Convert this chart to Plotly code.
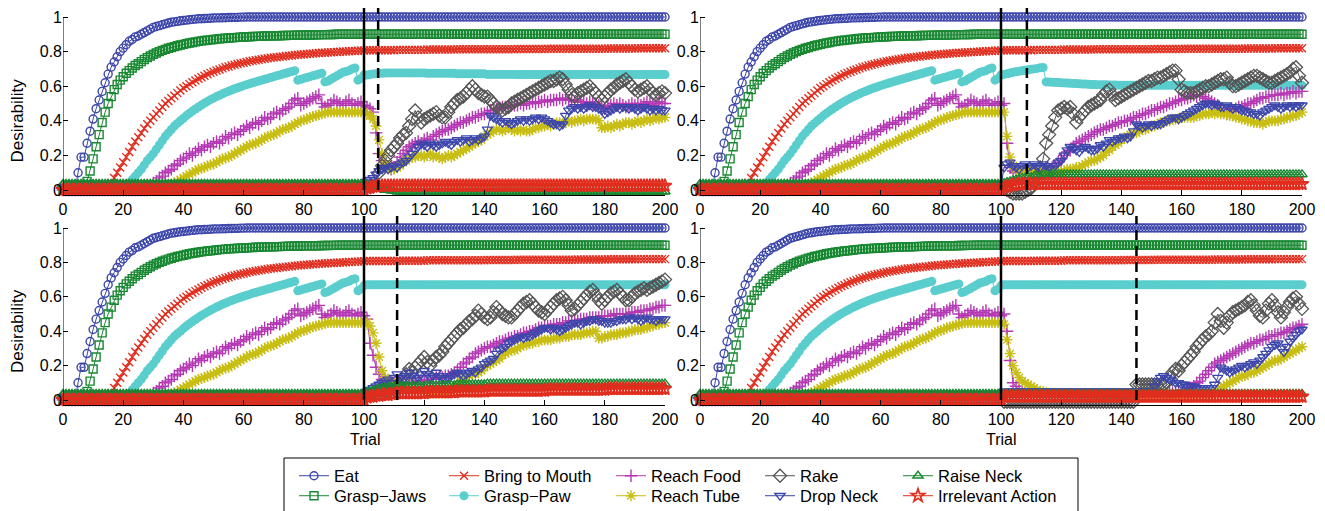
import plotly.graph_objects as go

# ---------------- DATA ----------------
TRIALS = list(range(0, 201))
TICKS_X = [0, 20, 40, 60, 80, 100, 120, 140, 160, 180, 200]
TICKS_Y = [0, 0.2, 0.4, 0.6, 0.8, 1]
TICK_Y_TEXT = ["0", "0.2", "0.4", "0.6", "0.8", "1"]
SERIES = ["Eat", "Grasp\u2212Jaws", "Bring to Mouth", "Grasp\u2212Paw", "Reach Food",
          "Reach Tube", "Rake", "Drop Neck", "Raise Neck", "Irrelevant Action"]
SWITCH_T = 100
DASH_T = [104.7, 108.6, 111.0, 145.0]   # TL, TR, BL, BR

# shared values, trials 0..100
EAT_PRE = [0.0, 0.0, 0.0, 0.0, 0.0,
           0.10, 0.19, 0.19, 0.27, 0.34, 0.41, 0.47, 0.52, 0.57, 0.62,
           0.67, 0.71, 0.74, 0.77, 0.80, 0.82, 0.84, 0.86, 0.87, 0.885,
           0.89, 0.90, 0.91, 0.92, 0.93, 0.94, 0.945, 0.95, 0.955, 0.96,
           0.965, 0.97, 0.972, 0.975, 0.978, 0.98, 0.982, 0.984, 0.986, 0.988,
           0.99, 0.99, 0.991, 0.992, 0.993, 0.994,
           0.995, 0.995, 0.996, 0.996, 0.997, 0.997, 0.998, 0.998, 0.999, 0.999] + [1.0] * 40
GJ_PRE = [0.0] * 8 + [
    0.05, 0.11, 0.18, 0.25, 0.32, 0.39, 0.45, 0.50, 0.54, 0.58,
    0.61, 0.635, 0.655, 0.675, 0.69, 0.705, 0.72, 0.73, 0.742, 0.754,
    0.765, 0.775, 0.784, 0.792, 0.80, 0.807, 0.813, 0.819, 0.824, 0.829,
    0.834, 0.838, 0.842, 0.846, 0.85, 0.853, 0.856, 0.859, 0.862, 0.864,
    0.866, 0.868, 0.87,
    0.872, 0.874, 0.876, 0.877, 0.879, 0.88, 0.881, 0.882, 0.883, 0.884,
    0.885, 0.886, 0.887, 0.888, 0.888, 0.889, 0.89, 0.89, 0.891, 0.891,
    0.892, 0.892, 0.893, 0.893, 0.894, 0.894, 0.895, 0.895, 0.895, 0.896,
    0.896, 0.896, 0.897, 0.897, 0.897, 0.898, 0.898, 0.898, 0.899, 0.899] + [0.9] * 10
BTM_PRE = [0.0] * 15 + [
    0.02, 0.04, 0.07, 0.10, 0.13, 0.16, 0.19, 0.22, 0.25, 0.28,
    0.305, 0.33, 0.355, 0.38, 0.40, 0.42, 0.44, 0.46, 0.48, 0.50,
    0.515, 0.53, 0.545, 0.56, 0.575, 0.59,
    0.60, 0.612, 0.623, 0.633, 0.643, 0.652, 0.661, 0.669, 0.677, 0.684,
    0.691, 0.697, 0.703, 0.709, 0.714, 0.719, 0.724, 0.728, 0.732, 0.736,
    0.74, 0.744, 0.747, 0.75, 0.753, 0.756, 0.759, 0.762, 0.764, 0.766,
    0.768, 0.77, 0.772, 0.774, 0.776, 0.778, 0.78, 0.782, 0.783, 0.785,
    0.786, 0.788, 0.789, 0.79, 0.792, 0.793, 0.794, 0.795, 0.796, 0.797,
    0.798, 0.799, 0.8, 0.801, 0.802, 0.803, 0.804, 0.805, 0.806, 0.807]
GP_PRE = [0.0] * 20 + [
    0.01, 0.02, 0.04, 0.06, 0.08, 0.10, 0.12, 0.145, 0.17, 0.19,
    0.21, 0.235, 0.26, 0.285, 0.31, 0.33, 0.35, 0.37, 0.385, 0.40, 0.415,
    0.43, 0.443, 0.456, 0.468, 0.48, 0.491, 0.502, 0.512, 0.522, 0.531,
    0.54, 0.548, 0.556, 0.564, 0.571, 0.578, 0.585, 0.591, 0.597, 0.603,
    0.609, 0.614, 0.62, 0.625, 0.63, 0.635, 0.64, 0.645, 0.65, 0.655,
    0.66, 0.665, 0.67, 0.675, 0.68, 0.685, 0.69,
    0.635, 0.64, 0.645, 0.65, 0.655, 0.66, 0.665, 0.67, 0.675,
    0.625, 0.63, 0.64, 0.65, 0.66, 0.67, 0.68, 0.685, 0.69, 0.70, 0.705,
    0.635, 0.645, 0.665]
RF_PRE = [0.0] * 29 + [
    0.02, 0.04, 0.05, 0.07, 0.08, 0.10, 0.11, 0.12, 0.14, 0.15, 0.17, 0.18,
    0.19, 0.21, 0.20, 0.22, 0.24, 0.23, 0.25, 0.26, 0.25, 0.27,
    0.28, 0.27, 0.29, 0.31, 0.30, 0.32, 0.33, 0.32, 0.34, 0.35,
    0.37, 0.36, 0.38, 0.39, 0.38, 0.40, 0.42, 0.41, 0.42, 0.44,
    0.45, 0.44, 0.46, 0.47, 0.48, 0.50, 0.52, 0.53, 0.49, 0.50,
    0.51, 0.52, 0.53, 0.54, 0.55, 0.50, 0.48, 0.49, 0.50, 0.52,
    0.51, 0.50, 0.49, 0.51, 0.52, 0.50, 0.49, 0.50, 0.51, 0.49]
RT_PRE = [0.0] * 35 + [
    0.02, 0.03, 0.04, 0.05, 0.06, 0.07, 0.08, 0.09, 0.10, 0.11, 0.12, 0.125, 0.13, 0.14, 0.145, 0.15,
    0.16, 0.17, 0.18, 0.185, 0.19, 0.20, 0.21, 0.22, 0.23, 0.24,
    0.25, 0.26, 0.265, 0.27, 0.28, 0.29, 0.30, 0.31, 0.315, 0.32,
    0.33, 0.34, 0.35, 0.355, 0.36, 0.37, 0.38, 0.39, 0.40, 0.405,
    0.41, 0.42, 0.425, 0.43, 0.435, 0.44, 0.445, 0.45, 0.45, 0.45,
    0.45, 0.45, 0.45, 0.45, 0.45, 0.45, 0.45, 0.45, 0.45, 0.45]
RAKE_PRE = [0.015] * 101
DN_PRE = [0.02] * 101
RN_PRE = [0.035] * 101
IA_PRE = [0.0] * 101

# shared values, trials 101..200
EAT_POST = [1.0] * 100
GJ_POST = [0.9] * 100
BTM_POST = ([0.808] * 10 + [0.81] * 10 + [0.812] * 10 + [0.813] * 10 + [0.814] * 10 +
            [0.815] * 10 + [0.816] * 10 + [0.817] * 10 + [0.818] * 10 + [0.819] * 10)

# ---- top-left panel, trials 101..200
GP_POST_TL = ([0.665, 0.668, 0.67, 0.672, 0.674, 0.675, 0.676, 0.677, 0.677, 0.677] +
              [0.677] * 10 + [0.675] * 10 + [0.672] * 10 + [0.668] * 10 + [0.667] * 50)
RF_POST_TL = [0.48, 0.47, 0.45, 0.33, 0.21, 0.17, 0.14, 0.13, 0.12, 0.13,
              0.16, 0.19, 0.21, 0.23, 0.25, 0.26, 0.27, 0.28, 0.27, 0.29,
              0.30, 0.29, 0.31, 0.32, 0.33, 0.34, 0.35, 0.35, 0.36, 0.37,
              0.38, 0.39, 0.39, 0.40, 0.41, 0.42, 0.42, 0.43, 0.44, 0.44,
              0.45, 0.46, 0.46, 0.47, 0.47, 0.48, 0.48, 0.48, 0.49, 0.49,
              0.49, 0.50, 0.49, 0.50, 0.50, 0.51, 0.50, 0.51, 0.51, 0.52,
              0.51, 0.52, 0.52, 0.52, 0.53, 0.52, 0.53, 0.52, 0.52, 0.51,
              0.52, 0.51, 0.51, 0.50, 0.51, 0.50, 0.50, 0.49, 0.48, 0.47,
              0.48, 0.49, 0.50, 0.49, 0.50, 0.49, 0.48, 0.49, 0.50, 0.49,
              0.50, 0.49, 0.50, 0.51, 0.50, 0.49, 0.50, 0.51, 0.50, 0.50]
RT_POST_TL = [0.44, 0.43, 0.41, 0.37, 0.29, 0.21, 0.15, 0.13, 0.12, 0.12,
              0.13, 0.14, 0.16, 0.17, 0.18, 0.19, 0.19, 0.20, 0.20, 0.19,
              0.20, 0.21, 0.19, 0.20, 0.19, 0.18, 0.19, 0.20, 0.19, 0.20,
              0.21, 0.22, 0.23, 0.24, 0.25, 0.26, 0.27, 0.28, 0.29, 0.31,
              0.32, 0.33, 0.34, 0.35, 0.35, 0.34, 0.35, 0.36, 0.35, 0.34,
              0.35, 0.34, 0.35, 0.34, 0.34, 0.35, 0.36, 0.36, 0.37, 0.37,
              0.38, 0.37, 0.38, 0.39, 0.39, 0.38, 0.39, 0.40, 0.39, 0.40,
              0.40, 0.41, 0.40, 0.41, 0.41, 0.41, 0.41, 0.40, 0.36, 0.36,
              0.37, 0.36, 0.37, 0.38, 0.37, 0.38, 0.39, 0.39, 0.38, 0.39,
              0.40, 0.39, 0.40, 0.41, 0.40, 0.41, 0.42, 0.41, 0.42, 0.42]
RAKE_POST_TL = [0.02, 0.02, 0.02, 0.03, 0.10, 0.14, 0.17, 0.20, 0.23, 0.25,
                0.27, 0.30, 0.32, 0.33, 0.37, 0.41, 0.46, 0.42, 0.39, 0.41,
                0.42, 0.43, 0.44, 0.45, 0.43, 0.42, 0.42, 0.45, 0.48, 0.50,
                0.52, 0.53, 0.54, 0.56, 0.58, 0.60, 0.58, 0.56, 0.55, 0.54,
                0.54, 0.52, 0.50, 0.48, 0.47, 0.46, 0.47, 0.48, 0.50, 0.51,
                0.52, 0.53, 0.54, 0.55, 0.56, 0.57, 0.58, 0.59, 0.60, 0.61,
                0.62, 0.63, 0.63, 0.64, 0.65, 0.64, 0.61, 0.58, 0.55, 0.54,
                0.56, 0.57, 0.58, 0.59, 0.60, 0.58, 0.56, 0.54, 0.52, 0.54,
                0.56, 0.58, 0.59, 0.61, 0.62, 0.63, 0.64, 0.62, 0.60, 0.58,
                0.57, 0.58, 0.59, 0.60, 0.58, 0.56, 0.55, 0.56, 0.57, 0.56]
DN_POST_TL = [0.05, 0.06, 0.07, 0.09, 0.11, 0.12, 0.13, 0.12, 0.13, 0.14,
              0.13, 0.15, 0.16, 0.17, 0.19, 0.21, 0.23, 0.25, 0.27, 0.26,
              0.25, 0.27, 0.26, 0.25, 0.26, 0.27, 0.28, 0.27, 0.26, 0.28,
              0.29, 0.28, 0.29, 0.30, 0.28, 0.29, 0.30, 0.29, 0.30, 0.31,
              0.35, 0.43, 0.42, 0.41, 0.40, 0.39, 0.40, 0.39, 0.38, 0.39,
              0.40, 0.41, 0.40, 0.41, 0.40, 0.41, 0.42, 0.41, 0.42, 0.41,
              0.40, 0.39, 0.38, 0.38, 0.37, 0.38, 0.43, 0.46, 0.47, 0.48,
              0.47, 0.48, 0.47, 0.48, 0.49, 0.48, 0.48, 0.47, 0.46, 0.44,
              0.45, 0.46, 0.47, 0.48, 0.47, 0.48, 0.48, 0.47, 0.48, 0.47,
              0.46, 0.47, 0.48, 0.47, 0.46, 0.47, 0.46, 0.47, 0.46, 0.46]
RN_POST_TL = [0.03, 0.025, 0.02, 0.015, 0.01, 0.005, 0.0, 0.0, -0.005, -0.005] + [-0.01] * 90
IA_POST_TL = [0.01, 0.015, 0.02, 0.02, 0.025] + [0.025] * 95

# ---- top-right panel
GP_POST_TR = ([0.668, 0.672, 0.676, 0.68, 0.683, 0.686, 0.689, 0.692, 0.695, 0.698, 0.70, 0.703, 0.706, 0.708] +
              [0.625, 0.624, 0.623, 0.622, 0.621, 0.62, 0.619, 0.618, 0.617, 0.616, 0.615, 0.614, 0.613, 0.612,
               0.611, 0.61, 0.61, 0.609, 0.609, 0.608, 0.608, 0.607, 0.607, 0.607, 0.606, 0.606, 0.606, 0.606] +
              [0.605] * 58)
RF_POST_TR = [0.50, 0.27, 0.13, 0.11, 0.10, 0.11, 0.10, 0.11, 0.10, 0.11,
              0.10, 0.11, 0.10, 0.11, 0.12, 0.12, 0.13, 0.14, 0.16, 0.18,
              0.20, 0.22, 0.23, 0.25, 0.27, 0.28, 0.29, 0.30, 0.31, 0.32,
              0.33, 0.34, 0.35, 0.35, 0.36, 0.37, 0.37, 0.38, 0.39, 0.39,
              0.40, 0.40, 0.41, 0.42, 0.42, 0.43, 0.44, 0.44, 0.45, 0.46,
              0.46, 0.47, 0.48, 0.48, 0.49, 0.50, 0.50, 0.51, 0.52, 0.52,
              0.53, 0.53, 0.54, 0.55, 0.54, 0.55, 0.54, 0.53, 0.52, 0.51,
              0.50, 0.49, 0.47, 0.45, 0.44, 0.45, 0.46, 0.47, 0.48, 0.48,
              0.49, 0.50, 0.50, 0.51, 0.52, 0.53, 0.53, 0.54, 0.54, 0.55,
              0.55, 0.55, 0.56, 0.55, 0.56, 0.56, 0.57, 0.56, 0.57, 0.57]
RT_POST_TR = [0.45, 0.31, 0.19, 0.14, 0.12, 0.11, 0.11, 0.10, 0.11, 0.10,
              0.11, 0.10, 0.11, 0.10, 0.11, 0.10, 0.11, 0.11, 0.10, 0.11,
              0.11, 0.12, 0.12, 0.12, 0.13, 0.13, 0.14, 0.15, 0.16, 0.17,
              0.17, 0.18, 0.19, 0.20, 0.22, 0.23, 0.25, 0.26, 0.27, 0.29,
              0.30, 0.31, 0.32, 0.33, 0.33, 0.34, 0.35, 0.35, 0.36, 0.37,
              0.37, 0.38, 0.39, 0.39, 0.40, 0.40, 0.41, 0.41, 0.41, 0.42,
              0.42, 0.42, 0.42, 0.42, 0.43, 0.43, 0.44, 0.44, 0.44, 0.45,
              0.44, 0.45, 0.44, 0.44, 0.44, 0.43, 0.43, 0.42, 0.42, 0.41,
              0.41, 0.40, 0.40, 0.39, 0.39, 0.39, 0.38, 0.39, 0.40, 0.40,
              0.40, 0.40, 0.41, 0.41, 0.42, 0.42, 0.43, 0.43, 0.44, 0.45]
RAKE_POST_TR = [0.01, 0.0, -0.01, -0.02, -0.02, -0.02, -0.02, -0.01, 0.0, 0.01,
                0.04, 0.08, 0.13, 0.18, 0.27, 0.32, 0.37, 0.42, 0.46, 0.47,
                0.48, 0.47, 0.48, 0.44, 0.39, 0.42, 0.44, 0.46, 0.48, 0.49,
                0.50, 0.51, 0.52, 0.55, 0.57, 0.58, 0.55, 0.52, 0.53, 0.54,
                0.55, 0.56, 0.57, 0.58, 0.59, 0.60, 0.61, 0.62, 0.63, 0.63,
                0.64, 0.65, 0.65, 0.66, 0.67, 0.68, 0.69, 0.69, 0.64, 0.58,
                0.57, 0.56, 0.56, 0.56, 0.57, 0.58, 0.59, 0.60, 0.60, 0.61,
                0.62, 0.63, 0.64, 0.64, 0.65, 0.62, 0.60, 0.60, 0.61, 0.62,
                0.63, 0.64, 0.65, 0.66, 0.66, 0.65, 0.64, 0.63, 0.62, 0.62,
                0.63, 0.64, 0.65, 0.66, 0.67, 0.68, 0.70, 0.71, 0.66, 0.62]
DN_POST_TR = [0.13, 0.15, 0.16, 0.14, 0.13, 0.12, 0.14, 0.15, 0.13, 0.14,
              0.15, 0.14, 0.13, 0.15, 0.14, 0.13, 0.12, 0.14, 0.16, 0.17,
              0.20, 0.23, 0.25, 0.24, 0.23, 0.22, 0.24, 0.25, 0.24, 0.23,
              0.23, 0.24, 0.26, 0.25, 0.27, 0.29, 0.28, 0.29, 0.30, 0.30,
              0.31, 0.30, 0.31, 0.34, 0.38, 0.37, 0.36, 0.37, 0.38, 0.37,
              0.38, 0.38, 0.38, 0.39, 0.40, 0.41, 0.42, 0.42, 0.41, 0.42,
              0.43, 0.44, 0.45, 0.46, 0.47, 0.48, 0.49, 0.50, 0.50, 0.49,
              0.50, 0.49, 0.48, 0.48, 0.49, 0.48, 0.47, 0.48, 0.47, 0.46,
              0.46, 0.45, 0.45, 0.44, 0.44, 0.43, 0.45, 0.46, 0.47, 0.48,
              0.49, 0.48, 0.47, 0.48, 0.49, 0.48, 0.49, 0.48, 0.49, 0.49]
RN_POST_TR = ([0.04, 0.045, 0.05, 0.055, 0.06, 0.065, 0.07, 0.07, 0.075, 0.075,
               0.08, 0.08, 0.08, 0.085, 0.085, 0.085, 0.09, 0.09, 0.09, 0.09] + [0.09] * 80)
IA_POST_TR = [0.015, 0.02, 0.025, 0.03, 0.03] + [0.035] * 95

# ---- bottom-left panel
GP_POST_BL = [0.67] * 100
RF_POST_BL = [0.47, 0.33, 0.26, 0.19, 0.15, 0.12, 0.11, 0.10, 0.10, 0.10,
              0.10, 0.10, 0.10, 0.10, 0.10, 0.10, 0.11, 0.11, 0.11, 0.11,
              0.12, 0.12, 0.12, 0.13, 0.13, 0.13, 0.14, 0.14, 0.15, 0.16,
              0.17, 0.19, 0.21, 0.22, 0.24, 0.25, 0.27, 0.28, 0.29, 0.30,
              0.31, 0.31, 0.32, 0.33, 0.34, 0.34, 0.35, 0.36, 0.36, 0.37,
              0.37, 0.38, 0.39, 0.39, 0.40, 0.40, 0.41, 0.42, 0.42, 0.43,
              0.43, 0.43, 0.44, 0.44, 0.44, 0.45, 0.45, 0.46, 0.46, 0.46,
              0.46, 0.47, 0.47, 0.47, 0.48, 0.48, 0.48, 0.48, 0.49, 0.49,
              0.49, 0.49, 0.50, 0.50, 0.50, 0.50, 0.50, 0.50, 0.51, 0.51,
              0.51, 0.52, 0.52, 0.52, 0.53, 0.53, 0.54, 0.54, 0.55, 0.55]
RT_POST_BL = [0.45, 0.43, 0.39, 0.33, 0.25, 0.17, 0.13, 0.11, 0.10, 0.09,
              0.08, 0.08, 0.07, 0.07, 0.06, 0.06, 0.06, 0.05, 0.05, 0.05,
              0.05, 0.04, 0.04, 0.04, 0.04, 0.04, 0.04, 0.04, 0.05, 0.07,
              0.09, 0.11, 0.12, 0.13, 0.14, 0.15, 0.15, 0.16, 0.17, 0.19,
              0.20, 0.21, 0.22, 0.23, 0.24, 0.26, 0.27, 0.28, 0.29, 0.29,
              0.30, 0.31, 0.32, 0.32, 0.33, 0.33, 0.34, 0.34, 0.35, 0.35,
              0.35, 0.35, 0.36, 0.36, 0.36, 0.37, 0.37, 0.37, 0.38, 0.38,
              0.38, 0.38, 0.39, 0.39, 0.39, 0.40, 0.40, 0.36, 0.36, 0.37,
              0.37, 0.38, 0.38, 0.38, 0.39, 0.39, 0.39, 0.40, 0.40, 0.41,
              0.41, 0.41, 0.42, 0.42, 0.43, 0.43, 0.44, 0.44, 0.45, 0.45]
RAKE_POST_BL = [0.03, 0.03, 0.04, 0.04, 0.05, 0.05, 0.05, 0.05, 0.06, 0.06,
                0.07, 0.09, 0.12, 0.15, 0.18, 0.16, 0.19, 0.21, 0.23, 0.25,
                0.22, 0.20, 0.23, 0.25, 0.26, 0.28, 0.31, 0.33, 0.35, 0.37,
                0.39, 0.41, 0.42, 0.44, 0.46, 0.47, 0.49, 0.52, 0.50, 0.48,
                0.47, 0.48, 0.51, 0.54, 0.52, 0.50, 0.49, 0.48, 0.48, 0.50,
                0.52, 0.54, 0.56, 0.57, 0.58, 0.56, 0.54, 0.52, 0.51, 0.50,
                0.52, 0.54, 0.56, 0.58, 0.59, 0.60, 0.58, 0.55, 0.52, 0.53,
                0.55, 0.57, 0.59, 0.61, 0.63, 0.64, 0.61, 0.58, 0.56, 0.58,
                0.60, 0.62, 0.63, 0.64, 0.62, 0.60, 0.58, 0.58, 0.60, 0.62,
                0.63, 0.64, 0.65, 0.64, 0.65, 0.66, 0.67, 0.68, 0.69, 0.70]
DN_POST_BL = [0.05, 0.06, 0.07, 0.08, 0.09, 0.10, 0.11, 0.12, 0.10, 0.13,
              0.15, 0.13, 0.12, 0.14, 0.16, 0.14, 0.12, 0.13, 0.15, 0.17,
              0.15, 0.13, 0.14, 0.16, 0.14, 0.13, 0.12, 0.13, 0.14, 0.15,
              0.16, 0.15, 0.14, 0.15, 0.16, 0.17, 0.16, 0.18, 0.19, 0.21,
              0.22, 0.23, 0.24, 0.27, 0.29, 0.30, 0.31, 0.33, 0.34, 0.35,
              0.36, 0.37, 0.36, 0.37, 0.37, 0.38, 0.39, 0.40, 0.41, 0.42,
              0.42, 0.41, 0.42, 0.41, 0.40, 0.41, 0.42, 0.43, 0.44, 0.45,
              0.45, 0.44, 0.45, 0.46, 0.46, 0.47, 0.47, 0.46, 0.46, 0.45,
              0.45, 0.45, 0.46, 0.46, 0.47, 0.47, 0.47, 0.48, 0.47, 0.48,
              0.47, 0.46, 0.47, 0.48, 0.47, 0.47, 0.46, 0.47, 0.47, 0.47]
RN_POST_BL = ([0.045, 0.05, 0.055, 0.06, 0.065, 0.07, 0.07, 0.075, 0.075, 0.08] +
              [0.08] * 10 + [0.085] * 10 + [0.09] * 10 + [0.095] * 60)
IA_POST_BL = ([0.015, 0.02, 0.02, 0.025, 0.025, 0.03, 0.03, 0.03, 0.035, 0.035] +
              [0.04] * 10 + [0.045] * 10 + [0.05] * 10 + [0.055] * 20 + [0.06] * 20 + [0.065] * 20)

# ---- bottom-right panel
GP_POST_BR = [0.67] * 100
RF_POST_BR = ([0.50, 0.40, 0.23, 0.10, 0.08, 0.06, 0.05, 0.04, 0.04, 0.03] + [0.03] * 40 +
              [0.03, 0.03, 0.03, 0.03, 0.03, 0.04, 0.04, 0.05, 0.05, 0.06,
               0.06, 0.07, 0.07, 0.08, 0.10, 0.11, 0.13, 0.15, 0.17, 0.19,
               0.21, 0.22, 0.23, 0.24, 0.25, 0.26, 0.27, 0.28, 0.29, 0.30,
               0.31, 0.32, 0.33, 0.33, 0.34, 0.35, 0.35, 0.36, 0.37, 0.37,
               0.38, 0.38, 0.39, 0.39, 0.40, 0.41, 0.42, 0.42, 0.43, 0.44])
RT_POST_BR = ([0.44, 0.35, 0.27, 0.20, 0.16, 0.13, 0.11, 0.10, 0.09, 0.08,
               0.07, 0.06, 0.05, 0.05, 0.04, 0.04, 0.04, 0.04, 0.03, 0.03] + [0.03] * 50 +
              [0.04, 0.05, 0.07, 0.08, 0.09, 0.10, 0.11, 0.12, 0.13, 0.14,
               0.14, 0.15, 0.16, 0.16, 0.17, 0.18, 0.19, 0.20, 0.21, 0.22,
               0.23, 0.23, 0.24, 0.25, 0.26, 0.27, 0.28, 0.29, 0.30, 0.31])
RAKE_POST_BR = ([-0.01] * 44 + [0.09] * 10 +
                [0.10, 0.13, 0.16, 0.18, 0.17, 0.20,
                 0.22, 0.24, 0.26, 0.28, 0.31, 0.33, 0.35, 0.37, 0.38, 0.40,
                 0.45, 0.50, 0.46, 0.42, 0.45, 0.49, 0.51, 0.52, 0.53, 0.54,
                 0.55, 0.57, 0.58, 0.55, 0.52, 0.49, 0.48, 0.52, 0.56, 0.58,
                 0.55, 0.51, 0.48, 0.51, 0.54, 0.57, 0.59, 0.60, 0.56, 0.53])
DN_POST_BR = ([0.05] * 50 +
              [0.08, 0.11, 0.13, 0.14, 0.13, 0.12, 0.11, 0.10, 0.10, 0.09,
               0.09, 0.08, 0.08, 0.08, 0.07, 0.07, 0.07, 0.07, 0.07, 0.07,
               0.09, 0.13, 0.19, 0.18, 0.17, 0.16, 0.17, 0.18, 0.19, 0.20,
               0.19, 0.20, 0.21, 0.22, 0.21, 0.23, 0.25, 0.27, 0.29, 0.31,
               0.32, 0.33, 0.30, 0.28, 0.31, 0.34, 0.36, 0.38, 0.40, 0.41])
RN_POST_BR = [0.035] * 100
IA_POST_BR = [0.02] * 100

# ---------------- ASSEMBLY ----------------
PRE = [EAT_PRE, GJ_PRE, BTM_PRE, GP_PRE, RF_PRE, RT_PRE, RAKE_PRE, DN_PRE, RN_PRE, IA_PRE]
POST = {
    "TL": [EAT_POST, GJ_POST, BTM_POST, GP_POST_TL, RF_POST_TL, RT_POST_TL, RAKE_POST_TL, DN_POST_TL, RN_POST_TL, IA_POST_TL],
    "TR": [EAT_POST, GJ_POST, BTM_POST, GP_POST_TR, RF_POST_TR, RT_POST_TR, RAKE_POST_TR, DN_POST_TR, RN_POST_TR, IA_POST_TR],
    "BL": [EAT_POST, GJ_POST, BTM_POST, GP_POST_BL, RF_POST_BL, RT_POST_BL, RAKE_POST_BL, DN_POST_BL, RN_POST_BL, IA_POST_BL],
    "BR": [EAT_POST, GJ_POST, BTM_POST, GP_POST_BR, RF_POST_BR, RT_POST_BR, RAKE_POST_BR, DN_POST_BR, RN_POST_BR, IA_POST_BR],
}
for i, a in enumerate(PRE):
    if len(a) != 101:
        raise ValueError(f"PRE {SERIES[i]} has {len(a)}")
for k, lst in POST.items():
    for i, a in enumerate(lst):
        if len(a) != 100:
            raise ValueError(f"POST {k} {SERIES[i]} has {len(a)}")

BLUE, GREEN, RED = "#3C46AA", "#198832", "#E12D1E"
STYLE = [
    dict(color=BLUE, symbol="circle-open", size=8, lw=1.4),
    dict(color=GREEN, symbol="square-open", size=8, lw=1.4),
    dict(color=RED, symbol="x-thin-open", size=8, lw=1.4),
    dict(color="#5ACDCD", symbol="circle", size=9, lw=0),
    dict(color="#B437B4", symbol="cross-thin-open", size=9, lw=1.4),
    dict(color="#C8BE14", symbol="asterisk-open", size=9, lw=1.4),
    dict(color="#555555", symbol="diamond-open", size=10, lw=1.3),
    dict(color=BLUE, symbol="triangle-down-open", size=9, lw=1.3),
    dict(color=GREEN, symbol="triangle-up-open", size=9, lw=1.4),
    dict(color=RED, symbol="star-open", size=10, lw=1.7),
]

# The page body adds an 8px margin, so the figure is drawn 8px smaller and
# every screen position below is shifted by OFF.
OFF = 8
W, H = 1325 - OFF, 511 - OFF
FONT = "Liberation Sans, Arial, Helvetica, sans-serif"
Y_LO, Y_HI = -0.03, 1.07


def fx(p):
    return (p - OFF) / W


def fy(p):
    return min(1.0, max(0.0, 1 - (p - OFF) / H))


# panel screen geometry: x of trial 0, x of trial 200, y of value 0, y of value 1
GEOM = {"TL": (63, 665, 190, 17), "TR": (700, 1302, 190, 17),
        "BL": (63, 665, 400, 228), "BR": (700, 1302, 400, 228)}
AX = {"TL": "", "TR": "2", "BL": "3", "BR": "4"}

fig = go.Figure()
layout = dict(width=W, height=H, margin=dict(l=0, r=0, t=0, b=0, autoexpand=False),
              paper_bgcolor="white", plot_bgcolor="white", showlegend=True,
              shapes=[], annotations=[])

for pi, key in enumerate(["TL", "TR", "BL", "BR"]):
    x0p, x1p, y0p, y1p = GEOM[key]
    unit = (y0p - y1p)
    hi = min(Y_HI, (y0p - OFF) / unit)          # keep the panel inside the figure
    ybot = y0p - unit * Y_LO
    ytop = y0p - unit * hi
    sfx = AX[key]
    xa = dict(domain=[fx(x0p), fx(x1p)], range=[0, 200], anchor="y" + sfx, automargin=False,
              tickvals=TICKS_X, ticks="inside", ticklen=5, tickcolor="black",
              showline=True, linecolor="black", linewidth=1, showgrid=False, zeroline=False,
              ticklabeloverflow="allow",
              tickfont=dict(family=FONT, size=16, color="black"))
    ya = dict(domain=[fy(ybot), fy(ytop)], range=[Y_LO, hi], anchor="x" + sfx, automargin=False,
              tickvals=TICKS_Y, ticktext=TICK_Y_TEXT, ticks="inside", ticklen=5, tickcolor="black",
              showline=False, showgrid=False, zeroline=False,
              ticklabeloverflow="allow",
              tickfont=dict(family=FONT, size=16, color="black"))
    layout["xaxis" + sfx] = xa
    layout["yaxis" + sfx] = ya
    for si, name in enumerate(SERIES):
        st = STYLE[si]
        yv = PRE[si] + POST[key][si]
        fig.add_trace(go.Scatter(
            x=TRIALS, y=yv, name=name, mode="lines+markers",
            xaxis="x" + sfx, yaxis="y" + sfx, cliponaxis=False,
            line=dict(color=st["color"], width=1),
            marker=dict(symbol=st["symbol"], size=st["size"], color=st["color"],
                        line=dict(color=st["color"], width=st["lw"])),
            legend="legend" if si == 0 else f"legend{si + 1}",
            showlegend=(pi == 0), hoverinfo="skip"))
    xr, yr = "x" + sfx, "y" + sfx
    layout["shapes"].append(dict(type="line", xref=xr, yref=yr, x0=0, x1=0, y0=Y_LO, y1=1,
                                 line=dict(color="black", width=1), layer="above"))
    layout["shapes"].append(dict(type="line", xref=xr, yref=yr, x0=SWITCH_T, x1=SWITCH_T, y0=0, y1=hi,
                                 line=dict(color="black", width=2.5), layer="above"))
    layout["shapes"].append(dict(type="line", xref=xr, yref=yr, x0=DASH_T[pi], x1=DASH_T[pi], y0=0, y1=hi,
                                 line=dict(color="black", width=2.5, dash="10px,6px"), layer="above"))
    if key in ("TL", "BL"):
        layout["annotations"].append(dict(text="Desirability", xref="paper", yref="paper",
                                          x=fx(17), y=fy((y0p + y1p) / 2 + 17),
                                          xanchor="center", yanchor="middle",
                                          textangle=-90, showarrow=False,
                                          font=dict(family=FONT, size=17, color="black")))
    if key in ("BL", "BR"):
        layout["annotations"].append(dict(text="Trial", xref="paper", yref="paper",
                                          x=fx((x0p + x1p) / 2 + 1), y=fy(439),
                                          xanchor="center", yanchor="middle", showarrow=False,
                                          font=dict(family=FONT, size=16, color="black")))

# legend: one small legend per entry, five columns x two rows
LEG_TEXT_X = [334, 484, 651, 800, 938]   # screen x where each column's text starts
LEG_ROW_Y = [476, 496]                    # screen y of each row's centre
for si in range(len(SERIES)):
    col, row = si // 2, si % 2
    nm = "legend" if si == 0 else f"legend{si + 1}"
    layout[nm] = dict(x=fx(LEG_TEXT_X[col] - 40), y=fy(LEG_ROW_Y[row]),
                      xanchor="left", yanchor="middle",
                      bgcolor="rgba(0,0,0,0)", borderwidth=0, tracegroupgap=0,
                      font=dict(family=FONT, size=16.5, color="black"), orientation="v")
bx0, bx1, by_top, by_bot = fx(284), fx(1078), fy(458), fy(515)
layout["shapes"].append(dict(type="path", xref="paper", yref="paper",
                             path=f"M {bx0},{by_bot} L {bx0},{by_top} L {bx1},{by_top} L {bx1},{by_bot}",
                             line=dict(color="black", width=1)))

fig.update_layout(**layout)
fig.write_html("out.html")
